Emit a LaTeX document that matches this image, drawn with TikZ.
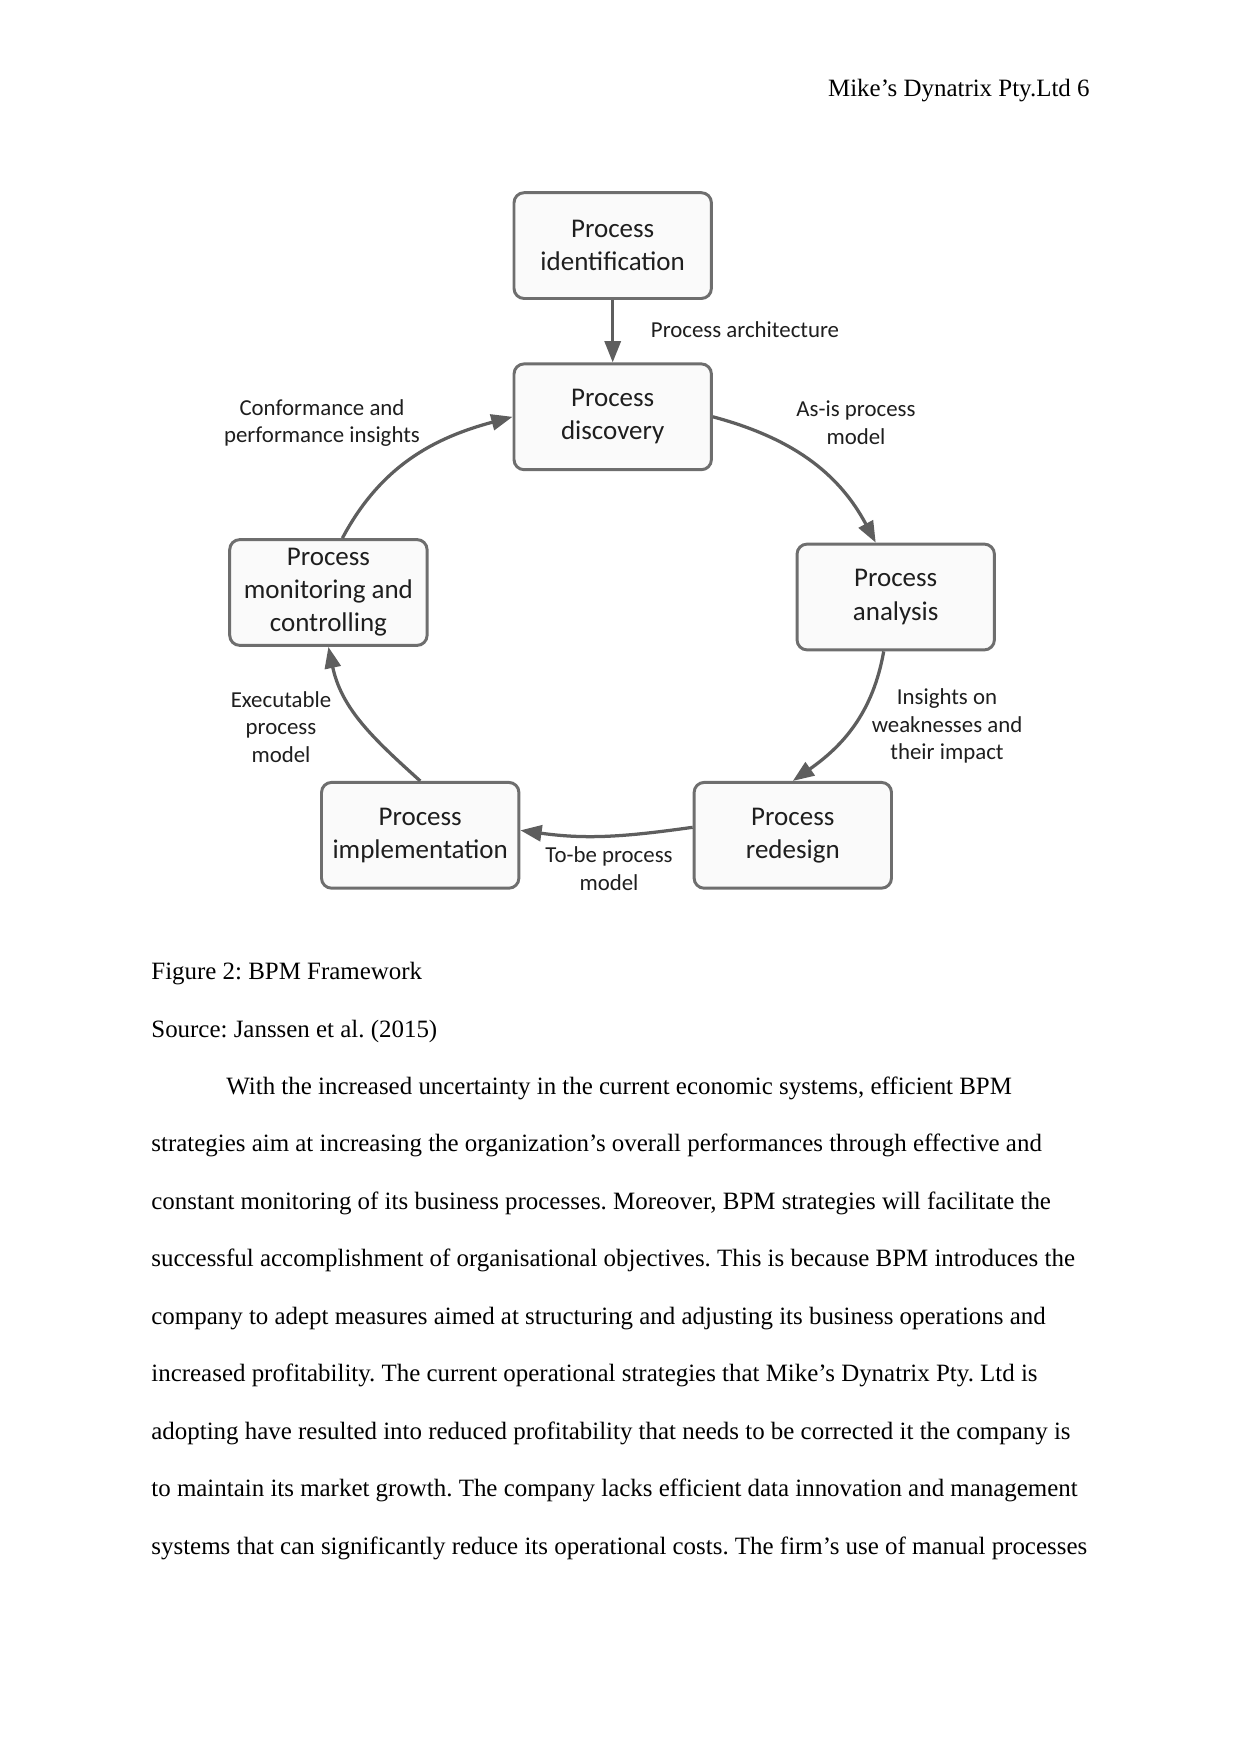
\documentclass[tikz,border=0pt]{standalone}
\usepackage{fontspec}
\setmainfont{Liberation Serif}
\newfontfamily\diagfont{Carlito}
\usepackage{xcolor}
\usepackage{tikz}
\usetikzlibrary{calc}
\usetikzlibrary{arrows.meta}
\frenchspacing

\definecolor{boxline}{HTML}{6E6E6E}
\definecolor{boxfill}{HTML}{FAFAFA}
\definecolor{flowgray}{HTML}{5E5E5E}
\definecolor{labelink}{HTML}{1E1E1E}

\tikzset{
  procbox/.style={draw=boxline, line width=0.5mm, fill=boxfill, rounded corners=1.7mm,
    minimum width=33.4mm, minimum height=17.9mm, align=center, text=labelink,
    font=\diagfont\fontsize{13}{15.9}\selectfont},
  flowlabel/.style={align=center, text=labelink, inner sep=0pt,
    font=\diagfont\fontsize{11}{13.4}\selectfont},
  flowarrow/.style={draw=flowgray, line width=0.55mm,
    -{Triangle[length=3.6mm,width=2.7mm]}},
  bodytext/.style={anchor=base west, inner sep=0pt, font=\fontsize{12}{14}\selectfont}
}

\begin{document}
\begin{tikzpicture}[x=0.16922mm, y=0.16922mm]
\useasboundingbox (0,0) rectangle (1241,-1754);

% running head
\node [anchor=base east, inner sep=0pt, font=\fontsize{12}{14}\selectfont] (head) at (1090,-97) {Mike’s Dynatrix Pty.Ltd 6};

% BPM cycle
\node [procbox] (ident) at (612.7,-245.6) {Process\\identification};
\node [procbox] (disc) at (612.7,-416.8) {Process\\discovery};
\node [procbox] (ana) at (895.7,-597) {Process\\analysis};
\node [procbox] (red) at (792.8,-835.3) {Process\\redesign};
\node [procbox] (imp) at (420.2,-835.3) {Process\\implementation};
\node [procbox] (mon) at (328.4,-592.5) {Process\\monitoring and\\controlling};

\draw [flowarrow] (ident.south) -- (disc.north);
\draw [flowarrow] (disc.east) to[out=-15, in=118] ($(ana.north)+(-20,0)$);
\draw [flowarrow] ($(ana.south)+(-12,0)$) to[out=-100, in=35] (red.north);
\draw [flowarrow] ($(red.west)+(0,8)$) to[out=188, in=-8] ($(imp.east)+(0,5)$);
\draw [flowarrow] (imp.north) to[out=138, in=-78] (mon.south);
\draw [flowarrow] ($(mon.north)+(14,0)$) to[out=62, in=-165] (disc.west);

\node [flowlabel] (archlbl) at (745,-330) {Process architecture};
\node [flowlabel] (asislbl) at (856,-423) {As-is process\\model};
\node [flowlabel] (confl) at (322,-423) {Conformance and\\performance insights};
\node [flowlabel] (execl) at (281,-727) {Executable\\process\\model};
\node [flowlabel] (weakl) at (947,-726) {Insights on\\weaknesses and\\their impact};
\node [flowlabel] (tobel) at (609,-869) {To-be process\\model};

% caption and source
\node [bodytext] (cap) at (151,-979) {Figure 2: BPM Framework};
\node [bodytext] (src) at (151,-1037) {Source: Janssen et al. (2015)};

% body paragraph
\node [bodytext] (par0) at (226,-1094) {With the increased uncertainty in the current economic systems, efficient BPM};
\foreach \ln [count=\k] in {
  {strategies aim at increasing the organization’s overall performances through effective and},
  {constant monitoring of its business processes. Moreover, BPM strategies will facilitate the},
  {successful accomplishment of organisational objectives. This is because BPM introduces the},
  {company to adept measures aimed at structuring and adjusting its business operations and},
  {increased profitability. The current operational strategies that Mike’s Dynatrix Pty. Ltd is},
  {adopting have resulted into reduced profitability that needs to be corrected it the company is},
  {to maintain its market growth. The company lacks efficient data innovation and management},
  {systems that can significantly reduce its operational costs. The firm’s use of manual processes}}
  \node [bodytext] (par\k) at (151,{-1094-57.5*\k}) {\ln};
\end{tikzpicture}
\end{document}
